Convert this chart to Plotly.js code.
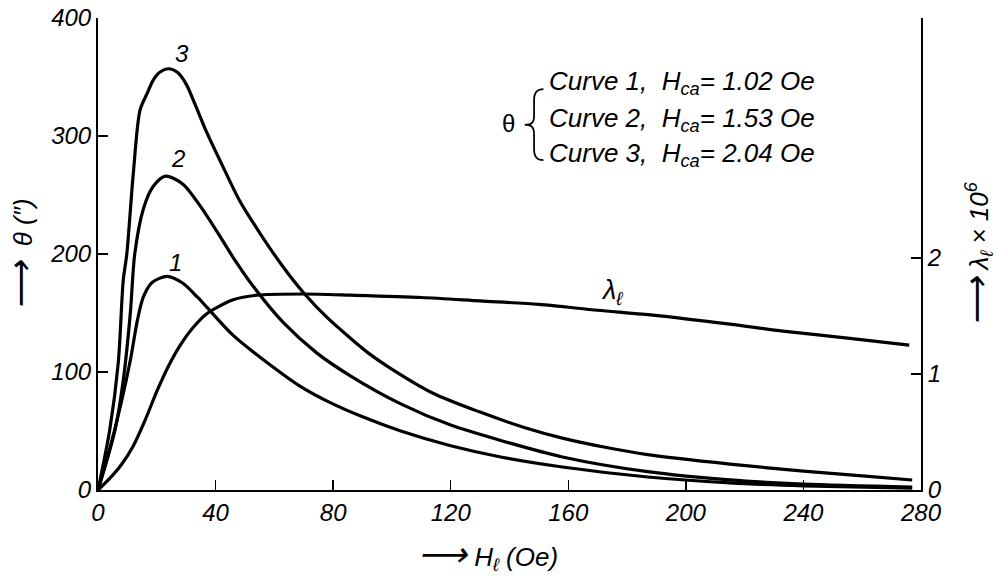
<!DOCTYPE html>
<html>
<head>
<meta charset="utf-8">
<script src="https://cdn.plot.ly/plotly-3.0.1.min.js"></script>
<style>html,body{margin:0;padding:0;background:#fff;}#chart{width:997px;height:578px;}</style>
</head>
<body>
<div id="chart"></div>
<script>
// H_l (Oe) and theta (seconds) for the three curves
const h1 = [0, 4, 8, 11, 13.5, 15.5, 18.5, 23.5, 29, 33.6, 37, 46, 57.5, 68.7, 79, 90, 103, 120, 137, 158, 187, 215, 240, 277];
const theta1 = [0, 35, 75, 110, 145, 164, 176, 181, 175, 164, 155, 131, 108, 88, 74, 62, 50, 37.5, 28, 19.5, 11, 6, 3.5, 1.5];

const h2 = [0, 5.8, 8.6, 11, 12.5, 15.4, 18.7, 23, 29, 34.7, 40.5, 46, 53, 63, 74.5, 85.7, 103, 120, 137, 158, 187, 215, 240, 277];
const theta2 = [0, 51, 93, 150, 200, 238, 257, 266, 259, 241, 219, 197, 172, 142, 116, 97, 73, 55, 42, 28, 15.5, 8.5, 5, 2.5];

const h3 = [0, 4, 6.9, 8.6, 9.8, 12, 14.3, 16.7, 18.7, 21, 24, 27, 30, 33, 37, 42.5, 48, 55, 63, 70, 78, 85.7, 92, 99, 114, 130, 145, 158, 173, 187, 215, 240, 260, 277];
const theta3 = [0, 51, 108, 178, 200, 268, 322, 336, 347, 354, 357, 354, 344, 327, 303, 274, 246, 218, 189, 167, 146, 129, 116, 104, 82, 66, 53, 44, 36, 30, 22, 16, 12, 8.5];

// lambda_l x 10^6
const hL = [0, 4, 8, 12, 16, 20, 24, 28, 32, 37, 46, 54, 70, 86, 110, 130, 150, 170, 188, 215, 233, 255, 276];
const lambdaL = [0, 0.1, 0.22, 0.38, 0.6, 0.85, 1.07, 1.25, 1.39, 1.52, 1.64, 1.68, 1.69, 1.68, 1.66, 1.63, 1.6, 1.55, 1.51, 1.43, 1.37, 1.31, 1.25];

const xTicks = [0, 40, 80, 120, 160, 200, 240, 280];
const yTicks = [0, 100, 200, 300, 400];
const y2Ticks = [0, 1, 2];

const legendLines = [
  'Curve 1,  H<sub>ca</sub>= 1.02 Oe',
  'Curve 2,  H<sub>ca</sub>= 1.53 Oe',
  'Curve 3,  H<sub>ca</sub>= 2.04 Oe'
];

const FONT = 'Liberation Sans, Arial, sans-serif';
const lineStyle = {color: '#000', width: 3.2, shape: 'spline', smoothing: 0.8};

const traces = [
  {x: h1, y: theta1, mode: 'lines', line: lineStyle, name: '1'},
  {x: h2, y: theta2, mode: 'lines', line: lineStyle, name: '2'},
  {x: h3, y: theta3, mode: 'lines', line: lineStyle, name: '3'},
  {x: hL, y: lambdaL, mode: 'lines', line: lineStyle, name: 'lambda', yaxis: 'y2'}
];

const tickFont = {family: FONT, size: 24, color: '#000', style: 'italic'};
const textFont = {family: FONT, size: 26, color: '#000', style: 'italic'};

const annotations = [
  {x: 28.6, y: 370, xref: 'x', yref: 'y', text: '3', showarrow: false, font: tickFont},
  {x: 27.2, y: 281, xref: 'x', yref: 'y', text: '2', showarrow: false, font: tickFont},
  {x: 26.5, y: 193, xref: 'x', yref: 'y', text: '1', showarrow: false, font: tickFont},
  {x: 175, y: 168, xref: 'x', yref: 'y', text: 'λ<sub>ℓ</sub>', showarrow: false, font: {family: FONT, size: 27, color: '#000', style: 'italic'}},
  {x: 139.5, y: 311, xref: 'x', yref: 'y', text: 'θ', showarrow: false, font: {family: FONT, size: 24, color: '#000'}},
  {x: 148.2, y: 313, xref: 'x', yref: 'y', text: '{', showarrow: false, font: {family: 'Inter, Lato, DejaVu Sans', size: 80, color: '#000', weight: 100}}
];
const legendY = [345, 313.6, 284];
legendLines.forEach((t, i) => {
  annotations.push({x: 152.7, y: legendY[i], xref: 'x', yref: 'y', xanchor: 'left', text: t, showarrow: false, font: textFont});
});
annotations.push({x: 0.474, y: -0.138, xref: 'paper', yref: 'paper', yanchor: 'middle', text: '<span style="font-size:34px">⟶</span> H<sub>ℓ</sub> (Oe)', showarrow: false,
  font: textFont});

const layout = {
  width: 997, height: 578,
  margin: {l: 98, r: 76, t: 18, b: 88},
  paper_bgcolor: '#fff', plot_bgcolor: '#fff',
  showlegend: false,
  xaxis: {
    range: [0, 280], tickvals: xTicks, ticktext: xTicks.map(String),
    ticks: 'inside', ticklen: 10, tickwidth: 1.5, tickcolor: '#000',
    showline: true, linewidth: 2, linecolor: '#000', showgrid: false, zeroline: false,
    tickfont: tickFont
  },
  yaxis: {
    range: [0, 400], tickvals: yTicks, ticktext: yTicks.map(String),
    ticks: 'inside', ticklen: 10, tickwidth: 1.5, tickcolor: '#000',
    showline: true, linewidth: 2, linecolor: '#000', showgrid: false, zeroline: false,
    tickfont: tickFont,
    title: {text: '<span style="font-size:34px">⟶</span>  θ (″)', font: textFont, standoff: 10}
  },
  yaxis2: {
    overlaying: 'y', side: 'right',
    range: [0, 4.07], tickvals: y2Ticks, ticktext: y2Ticks.map(String),
    ticks: 'inside', ticklen: 10, tickwidth: 1.5, tickcolor: '#000',
    showline: true, linewidth: 2, linecolor: '#000', showgrid: false, zeroline: false,
    tickfont: tickFont,
    title: {text: '<span style="font-size:34px">⟶</span> λ<sub>ℓ</sub> × 10<sup>6</sup>', font: textFont, standoff: 30}
  },
  annotations: annotations
};

Plotly.newPlot('chart', traces, layout, {staticPlot: true});
</script>
</body>
</html>
